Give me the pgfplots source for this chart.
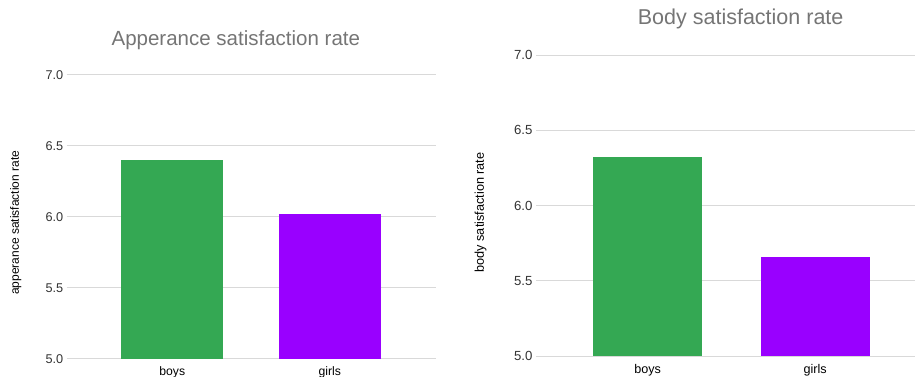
\documentclass[border=0pt]{standalone}
\usepackage{pgfplots}
\pgfplotsset{compat=1.18}
\usepackage{fontspec}
\setmainfont{Liberation Sans}
\definecolor{barGreen}{HTML}{34A853}
\definecolor{barPurple}{HTML}{9900FF}
\definecolor{gridGray}{HTML}{D9D9D9}
\definecolor{titleGray}{HTML}{757575}
\definecolor{labelGray}{HTML}{333333}
\pgfplotsset{
  chartstyle/.style={
    scale only axis,
    anchor=south west,
    ymin=5, ymax=7,
    ytick={5,5.5,6,6.5,7},
    yticklabel style={/pgf/number format/fixed, /pgf/number format/fixed zerofill, /pgf/number format/precision=1, /pgf/number format/assume math mode=true},
    yticklabel style={text=labelGray},
    xticklabel style={text=black, yshift=-4pt},
    xtick={0,1},
    xticklabels={boys,girls},
    axis line style={draw=none},
    major tick length=0pt,
    ymajorgrids,
    grid style={gridGray, line width=0.9pt},
    ybar, bar width=0.65, bar shift=0pt,
    title style={text=titleGray, anchor=base},
    ylabel style={text=black, anchor=center, rotate=0},
    clip=false,
  }
}
\begin{document}
\begin{tikzpicture}
\useasboundingbox (0,0) rectangle (915pt,376pt);
\begin{axis}[chartstyle,
  at={(66.7pt,17.3pt)}, width=369.3pt, height=284pt,
  xmin=-0.67, xmax=1.674,
  title={Apperance satisfaction rate},
  title style={at={(axis description cs:0.458,1.081)}, font=\fontsize{20.5}{22}\selectfont},
  ylabel={apperance satisfaction rate},
  ylabel style={at={(axis description cs:-0.138,0.478)}, font=\fontsize{12}{14}\selectfont},
  yticklabel style={font=\fontsize{12.7}{14}\selectfont},
  xticklabel style={font=\fontsize{12.2}{14}\selectfont},
]
\addplot[fill=barGreen, draw=none] coordinates {(0,6.40)};
\addplot[fill=barPurple, draw=none] coordinates {(1,6.02)};
\end{axis}
\begin{axis}[chartstyle,
  at={(536pt,20pt)}, width=379pt, height=301pt,
  xmin=-0.667, xmax=1.596,
  title={Body satisfaction rate},
  title style={at={(axis description cs:0.540,1.0807)}, font=\fontsize{21.5}{23}\selectfont},
  ylabel={body satisfaction rate},
  ylabel style={at={(axis description cs:-0.146,0.477)}, font=\fontsize{12.7}{14}\selectfont},
  yticklabel style={font=\fontsize{13.2}{15}\selectfont},
  xticklabel style={font=\fontsize{12.6}{14}\selectfont, yshift=-1pt},
]
\addplot[fill=barGreen, draw=none] coordinates {(0,6.32)};
\addplot[fill=barPurple, draw=none] coordinates {(1,5.655)};
\end{axis}
\end{tikzpicture}
\end{document}
